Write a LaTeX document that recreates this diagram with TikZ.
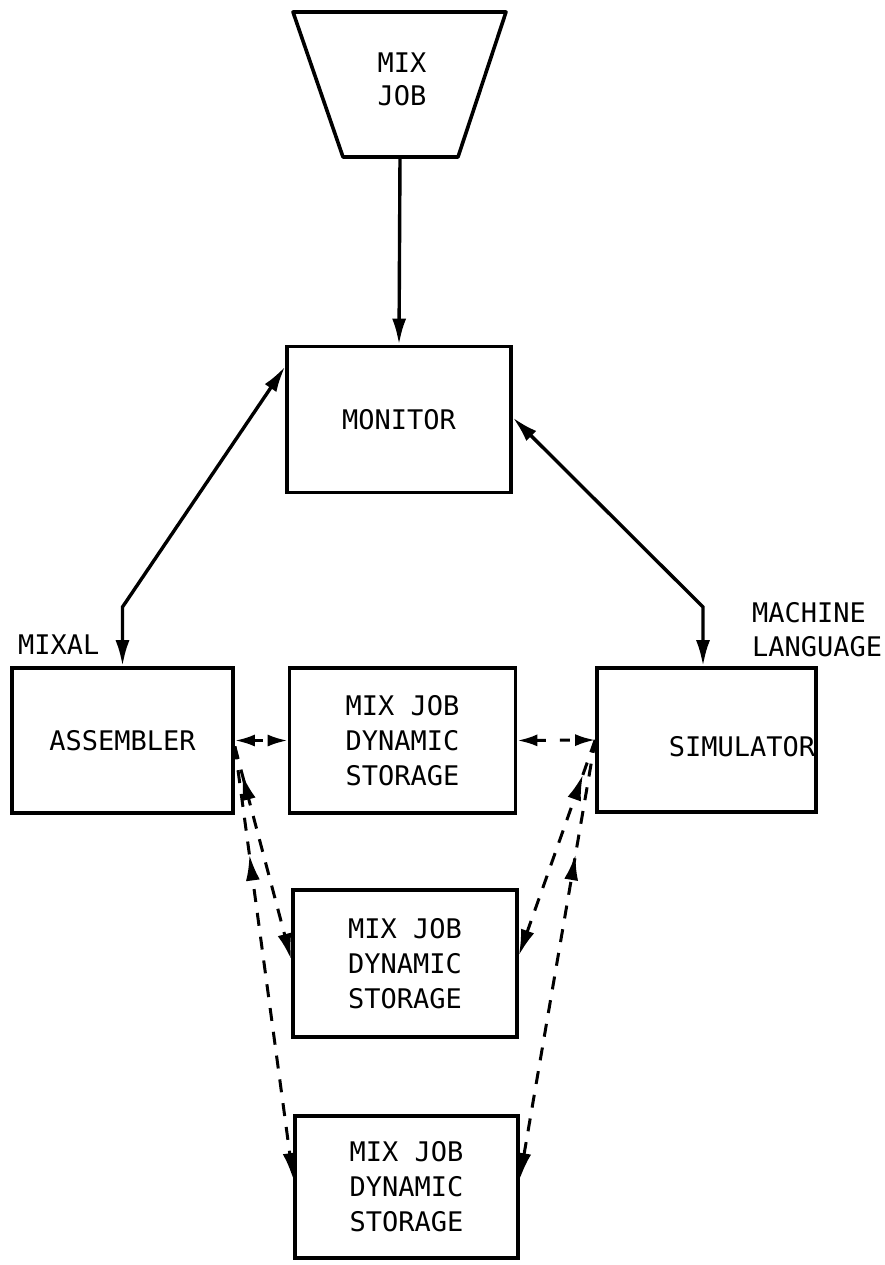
\documentclass[tikz,border=0pt]{standalone}
\usepackage{fontspec}
\setmainfont{DejaVu Sans Mono}
\usetikzlibrary{arrows.meta,decorations.markings}

\tikzset{
  box/.style={draw, line width=3.6pt, minimum width=#1, align=center,
              inner sep=0pt, font=\fontsize{27}{35}\selectfont},
  lbl/.style={inner sep=0pt, align=left, font=\fontsize{27}{34}\selectfont},
  bigtip/.style={Latex[length=26pt,width=14pt]},
  solidlink/.style={line width=3.4pt, {Latex[length=26pt,width=14pt]}-{Latex[length=26pt,width=14pt]}},
  downlink/.style={line width=3pt, dash pattern=on 13pt off 11pt,
                   -{Latex[length=26pt,width=14pt]}},
  sidelink/.style={line width=3pt, dash pattern=on 10pt off 14pt,
                   {Latex[length=20pt,width=12pt]}-{Latex[length=20pt,width=12pt]}},
  uptip/.style={postaction={decorate}, decoration={markings,
                mark=at position #1 with {\arrowreversed[solid]{Latex[length=26pt,width=14pt]}}}}
}

\begin{document}
\begin{tikzpicture}[x=1pt,y=-1pt]
\useasboundingbox (0,0) rectangle (884,1265);

% job input card
\draw[line width=3.6pt, line join=round] (293,12) -- (506,12) -- (458,157) -- (343,157) -- cycle;
\node[lbl, align=center, font=\fontsize{27}{33}\selectfont] (job) at (402,79) {MIX\\JOB};
\coordinate (jobout) at (400,157);

% main blocks
\node[box=224pt, minimum height=146pt] (mon) at (399,419.5) {MONITOR};
\node[box=221pt, minimum height=145pt] (asm) at (122.5,740.5) {ASSEMBLER};
\node[box=226pt, minimum height=145pt] (st1) at (402.5,740.5) {MIX JOB\\DYNAMIC\\STORAGE};
\node[box=219pt, minimum height=144pt] (sim) at (706.5,740) {};
\node[lbl] (simtxt) at (742,747) {SIMULATOR};
\node[box=224pt, minimum height=147pt] (st2) at (405,963.5) {MIX JOB\\DYNAMIC\\STORAGE};
\node[box=223pt, minimum height=142pt] (st3) at (406.5,1187) {MIX JOB\\DYNAMIC\\STORAGE};

% labels
\node[lbl, anchor=west] (mixal) at (18,645) {MIXAL};
\node[lbl, anchor=west] (mlang) at (752,630) {MACHINE\\LANGUAGE};

% monitor connections
\draw[line width=3.4pt, -{Latex[length=26pt,width=14pt]}] (jobout) -- (mon.north);
\coordinate (lbend) at (122.5,607);
\coordinate (rbend) at (703,607);
\draw[solidlink] (mon.155) -- (lbend) -- (asm.north);
\draw[solidlink] (mon.1) -- (rbend) -- (rbend |- sim.north);

% storage traffic
\draw[sidelink] (asm.east) -- (st1.west);
\draw[sidelink] (st1.east) -- (sim.west);

\coordinate (aout) at (asm.-3);
\draw[downlink, uptip=0.13] (aout) -- (st2.178);
\draw[downlink, uptip=0.25] (aout) -- (st3.176);
\draw[downlink, uptip=0.16] (sim.west) -- (st2.4);
\draw[downlink, uptip=0.26] (sim.west) -- (st3.4);
\end{tikzpicture}
\end{document}
